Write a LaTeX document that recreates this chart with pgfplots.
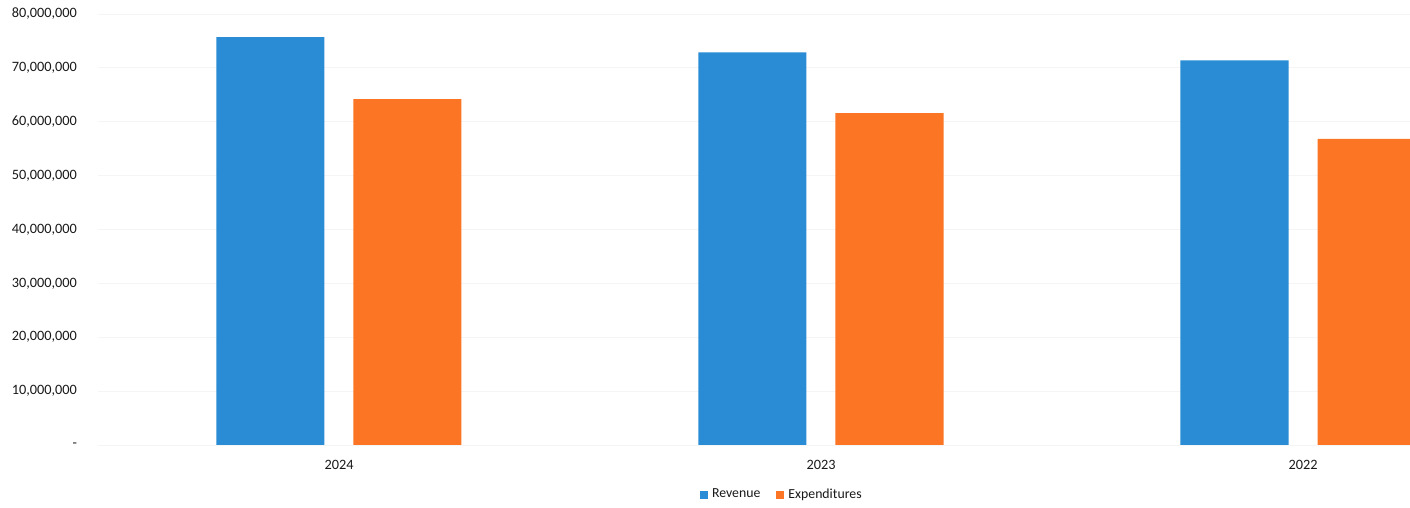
\documentclass[border=0pt]{standalone}
\usepackage{pgfplots}
\pgfplotsset{compat=1.18}
\usepackage{fontspec}
\setmainfont{Carlito}
\definecolor{revblue}{RGB}{42,140,212}
\definecolor{exporange}{RGB}{252,117,36}
\begin{document}
\begin{tikzpicture}
\begin{axis}[
  at={(0,0)}, anchor=south west,
  scale only axis,
  width=656pt, height=215.5pt,
  ybar, bar width=54pt,
  xmin=-0.5, xmax=2.222,
  ymin=0, ymax=80000000,
  xtick={0,1,2}, xticklabels={2024,2023,2022},
  ytick={0,10000000,20000000,30000000,40000000,50000000,60000000,70000000,80000000},
  yticklabels={-,{10,000,000},{20,000,000},{30,000,000},{40,000,000},{50,000,000},{60,000,000},{70,000,000},{80,000,000}},
  scaled y ticks=false,
  axis line style={draw=none},
  major tick length=0pt,
  ymajorgrids, grid style={black!4},
  tick label style={text=black!90},
  yticklabel style={font=\fontsize{7.15}{9}\selectfont, xshift=-7pt},
  xticklabel style={font=\fontsize{7.15}{9}\selectfont, yshift=-4pt},
  legend style={at={(0.522,-0.116)}, anchor=center, draw=none, legend columns=2,
    font=\fontsize{6.9}{8}\selectfont, text=black!90, /tikz/every even column/.append style={column sep=6pt}},
  legend image code/.code={\fill[#1] (0pt,-2pt) rectangle (4pt,2pt);},
]
\addplot[fill=revblue, draw=none, bar shift=-34.25pt] coordinates {(0,75700000) (1,72900000) (2,71400000)};
\addplot[fill=exporange, draw=none, bar shift=34.25pt] coordinates {(0,64200000) (1,61600000) (2,56800000)};
\legend{Revenue, Expenditures}
\end{axis}
\pgfresetboundingbox
\path (-49pt,-31.5pt) rectangle (656pt,222.5pt);
\end{tikzpicture}
\end{document}
